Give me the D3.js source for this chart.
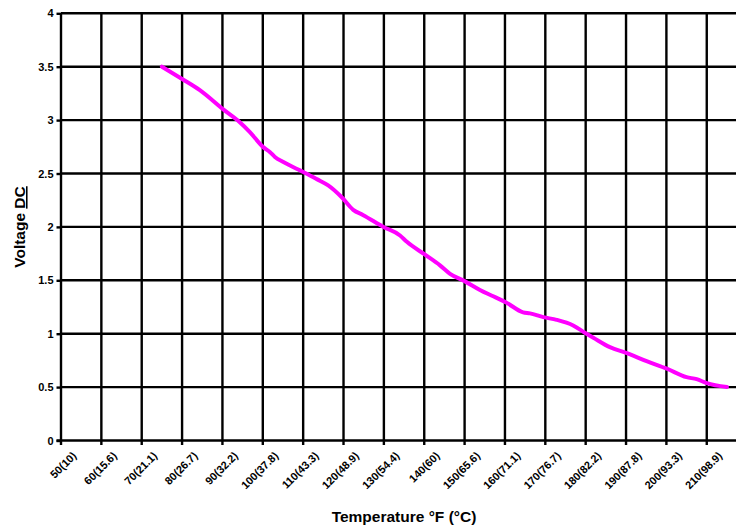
<!DOCTYPE html>
<html>
<head>
<meta charset="utf-8">
<script src="https://cdn.jsdelivr.net/npm/d3@7"></script>
<style>
  body { margin: 0; background: #fff; }
  svg { display: block; font-family: "Liberation Sans", Arial, sans-serif; font-weight: bold; }
</style>
</head>
<body>
<script>
// categorias del eje x (°F y °C)
let gradosF = [50, 60, 70, 80, 90, 100, 110, 120, 130, 140, 150, 160, 170, 180, 190, 200, 210];
let gradosC = ["10", "15.6", "21.1", "26.7", "32.2", "37.8", "43.3", "48.9", "54.4", "60", "65.6", "71.1", "76.7", "82.2", "87.8", "93.3", "98.9"];
let ticksY = [0, 0.5, 1, 1.5, 2, 2.5, 3, 3.5, 4];

// curva: temperatura °F -> voltaje DC
let tempF = [70, 75, 79.4, 85.2, 89.3, 91.8, 95.1, 96.8, 98.0, 100.1, 104.2, 105.9, 108.5, 111.2, 114.5,
    117.4, 119.9, 124.9, 129, 130.7, 135.2, 138.9, 141.4, 145.1, 148.8, 152.1, 155.4, 159.5, 161.2,
    164.5, 167.8, 171.9, 174.8, 176.9, 181, 185.2, 190.1, 195.1, 200, 202.5, 205, 210];
let voltaje = [3.5, 3.385, 3.28, 3.1, 2.98, 2.888, 2.747, 2.70, 2.655, 2.607, 2.529, 2.498, 2.445, 2.389, 2.28,
    2.16, 2.11, 2.0, 1.92, 1.86, 1.74, 1.64, 1.56, 1.49, 1.41, 1.35, 1.29, 1.2, 1.19,
    1.155, 1.13, 1.077, 1.009, 0.962, 0.874, 0.818, 0.743, 0.672, 0.593, 0.574, 0.537, 0.5];

let w = 736;
let h = 527;
let izq = 61, arriba = 13.3, abajo = 440.5;
let paso = 40.36; // ancho de cada categoria
let etiquetas = gradosF.map((f, i) => f + "(" + gradosC[i] + ")");

let x = d3.scaleBand()
    .domain(etiquetas)
    .range([izq, izq + paso * etiquetas.length])
    .padding(0);

let y = d3.scaleLinear()
    .domain([0, 4])
    .range([abajo, arriba]);

// de °F a pixel, alineado al centro de las categorias
let xt = d3.scaleLinear()
    .domain([gradosF[0], gradosF[gradosF.length - 1]])
    .range([x(etiquetas[0]) + x.bandwidth() / 2, x(etiquetas[etiquetas.length - 1]) + x.bandwidth() / 2]);

let svg = d3.select("body")
    .append("svg")
    .attr("width", w)
    .attr("height", h);

// lineas horizontales
svg.selectAll(".gridY")
    .data(ticksY.slice(1))
    .enter()
    .append("line")
    .attr("x1", izq)
    .attr("x2", w + 20)
    .attr("y1", (d) => y(d))
    .attr("y2", (d) => y(d))
    .attr("stroke", "#000")
    .attr("stroke-width", 2.4);

// lineas verticales (limites de categoria)
let limites = etiquetas.slice(1).map((d) => x(d)).concat([x.range()[1]]);
svg.selectAll(".gridX")
    .data(limites)
    .enter()
    .append("line")
    .attr("x1", (d) => d)
    .attr("x2", (d) => d)
    .attr("y1", arriba)
    .attr("y2", abajo + 4.5)
    .attr("stroke", "#000")
    .attr("stroke-width", 2.4);

// eje y
let ejeY = svg.append("g")
    .attr("transform", "translate(" + izq + ",0)")
    .call(d3.axisLeft(y).tickValues(ticksY).tickSize(4.5).tickPadding(3).tickFormat(d3.format("")));
ejeY.select(".domain").remove();
ejeY.selectAll(".tick line").attr("stroke-width", 2.4);
ejeY.selectAll(".tick text")
    .style("font-size", "11px")
    .style("font-weight", "bold")
    .attr("fill", "#000");
svg.append("line")
    .attr("x1", izq).attr("x2", izq)
    .attr("y1", arriba).attr("y2", abajo)
    .attr("stroke", "#000").attr("stroke-width", 2.4);

// eje x
svg.append("line")
    .attr("x1", izq - 4.5).attr("x2", w + 20)
    .attr("y1", abajo).attr("y2", abajo)
    .attr("stroke", "#000").attr("stroke-width", 2.4);
svg.append("line")
    .attr("x1", izq).attr("x2", izq)
    .attr("y1", abajo).attr("y2", abajo + 4.5)
    .attr("stroke", "#000").attr("stroke-width", 2.4);

svg.selectAll(".etiquetaX")
    .data(etiquetas)
    .enter()
    .append("text")
    .attr("text-anchor", "end")
    .attr("transform", (d) => {
        let cx = x(d) + x.bandwidth() / 2 - 4;
        return "translate(" + cx + "," + (abajo + 16) + ") rotate(-45)";
    })
    .style("font-size", "11px")
    .text((d) => d);

// curva
let linea = d3.line()
    .x((d, i) => xt(tempF[i]))
    .y((d) => y(d))
    .curve(d3.curveMonotoneX);

svg.append("path")
    .datum(voltaje)
    .attr("d", linea)
    .attr("fill", "none")
    .attr("stroke", "#ff00ff")
    .attr("stroke-width", 4)
    .attr("stroke-linecap", "round");

// titulos
svg.append("text")
    .attr("x", 404)
    .attr("y", 522)
    .attr("text-anchor", "middle")
    .style("font-size", "15.5px")
    .text("Temperature °F (°C)");

let tituloY = svg.append("text")
    .attr("transform", "translate(25,227) rotate(-90)")
    .attr("text-anchor", "middle")
    .style("font-size", "15.5px");
tituloY.append("tspan").text("Voltage ");
tituloY.append("tspan").style("text-decoration", "underline").text("DC");
</script>
</body>
</html>
